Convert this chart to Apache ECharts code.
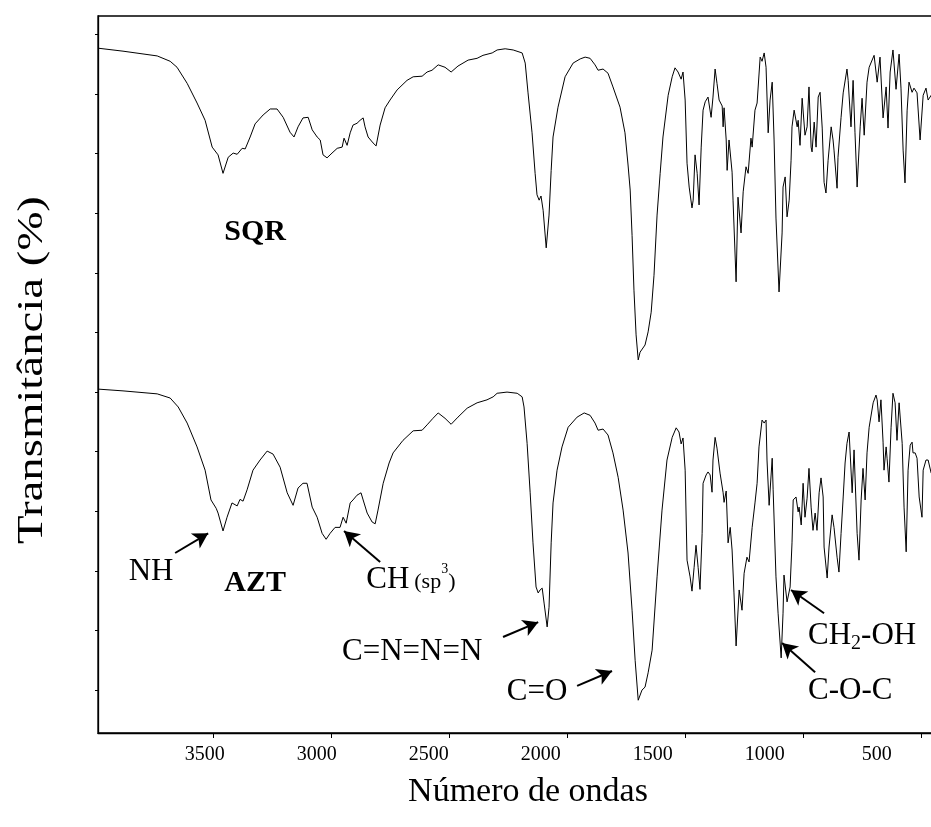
<!DOCTYPE html>
<html>
<head>
<meta charset="utf-8">
<script src="https://cdn.jsdelivr.net/npm/echarts@6/dist/echarts.min.js"></script>
<style>
html,body{margin:0;padding:0;background:#fff;}
#chart{width:931px;height:827px;}
</style>
</head>
<body>
<div id="chart"></div>
<script>
// ---- data (wavenumber in cm-1, transmittance in arbitrary stacked units) ----
const tickWavenumbers = [3500, 3000, 2500, 2000, 1500, 1000, 500];
const tickLabels = ['3500', '3000', '2500', '2000', '1500', '1000', '500'];
const transmittanceTicks = [0, 10, 20, 30, 40, 50, 60, 70, 80, 90, 100, 110];

const sqrWavenumber = [3988,3882,3737,3682,3653,3610,3568,3534,3504,3479,3458,3436,3415,3398,3377,3364,3343,3322,3288,3258,3229,3203,3174,3157,3140,3119,3097,3080,3059,3046,3034,3017,2996,2974,2953,2945,2932,2919,2907,2890,2877,2864,2856,2843,2822,2809,2792,2771,2750,2720,2678,2652,2614,2593,2572,2546,2517,2491,2462,2419,2381,2356,2317,2296,2262,2228,2190,2177,2165,2148,2135,2127,2118,2110,2101,2088,2076,2067,2059,2038,2008,1974,1944,1923,1902,1881,1868,1847,1826,1805,1775,1754,1741,1732,1724,1716,1707,1698,1690,1682,1669,1656,1643,1631,1618,1605,1593,1571,1554,1542,1529,1516,1508,1499,1491,1482,1470,1465,1457,1448,1440,1431,1423,1414,1406,1402,1389,1381,1372,1364,1355,1342,1338,1334,1325,1321,1313,1300,1296,1283,1275,1262,1253,1241,1232,1220,1215,1203,1194,1181,1173,1164,1156,1147,1139,1130,1122,1114,1101,1088,1084,1075,1067,1058,1050,1046,1037,1024,1020,1012,1003,991,982,974,965,961,952,944,935,927,918,910,902,893,880,872,868,855,851,838,829,813,808,796,787,779,770,757,749,740,728,719,698,685,673,660,647,639,630,618,605,592,584,575,567,558,550,537,529,516,503,490,478,469,456,440];
const sqrTransmittance = [107.7,107.2,106.4,105.5,104.5,101.8,98.5,95.6,91.1,89.8,86.7,89.4,90.1,89.9,90.9,90.8,92.8,95.0,96.5,97.5,97.5,96.1,93.6,92.8,94.5,96.0,96.1,94.0,92.8,92.3,89.8,89.3,90.1,90.9,91.1,92.6,91.4,93.5,94.8,95.1,95.6,96.0,94.5,92.8,91.8,91.3,94.8,97.7,99.0,100.7,102.3,102.9,103.0,103.7,104.0,104.9,104.5,103.7,104.7,105.7,106.0,106.5,106.9,107.4,107.6,107.4,106.9,105.2,100.2,93.5,86.7,83.1,82.2,82.9,80.5,74.2,79.7,87.2,92.8,97.8,102.9,105.2,105.9,106.2,106.0,104.9,104.0,104.2,103.5,101.2,97.8,93.5,88.1,83.9,76.3,67.1,59.6,55.4,56.7,57.0,57.9,60.1,63.4,69.6,79.7,86.7,92.8,99.8,102.9,104.4,103.7,102.5,103.7,99.0,88.4,84.4,80.9,82.2,89.8,86.7,81.4,91.1,97.3,98.7,99.0,99.5,96.1,99.5,104.2,101.8,99.0,98.0,94.5,97.7,92.3,87.2,92.3,86.9,82.2,68.5,82.7,76.7,83.6,87.8,86.7,92.6,91.1,97.3,98.5,106.2,105.5,106.9,104.5,93.5,99.0,102.0,92.3,79.2,66.8,76.7,84.4,86.1,79.4,82.2,88.9,94.5,97.3,94.5,95.6,91.4,99.3,93.1,94.5,101.2,91.1,90.3,95.3,91.1,99.5,100.3,94.3,85.2,83.4,88.9,94.5,92.3,90.6,84.2,89.4,96.1,100.2,104.2,102.3,94.5,102.3,93.5,84.4,94.5,99.3,93.1,102.0,104.5,106.5,102.0,106.2,96.0,101.2,94.3,103.7,107.4,100.8,106.7,101.0,90.6,85.1,97.3,102.0,100.3,101.0,100.2,92.3,99.8,101.0,99.0,99.8,98.5];

const aztWavenumber = [3988,3882,3737,3682,3648,3610,3568,3534,3509,3487,3479,3458,3441,3420,3398,3386,3373,3356,3331,3301,3271,3246,3216,3186,3161,3140,3119,3102,3080,3059,3038,3021,3004,2983,2962,2949,2936,2919,2907,2890,2873,2864,2847,2826,2813,2801,2779,2754,2737,2695,2652,2614,2593,2568,2546,2517,2491,2462,2423,2381,2339,2313,2296,2254,2211,2190,2182,2169,2156,2144,2131,2122,2114,2105,2097,2084,2076,2067,2059,2042,2021,1995,1957,1927,1902,1881,1868,1847,1826,1805,1783,1762,1741,1724,1711,1698,1682,1669,1656,1639,1618,1597,1576,1554,1537,1525,1516,1508,1499,1491,1478,1470,1461,1453,1444,1436,1427,1423,1410,1402,1393,1385,1381,1372,1364,1351,1338,1334,1325,1317,1308,1300,1292,1283,1270,1258,1249,1237,1228,1215,1203,1194,1186,1173,1164,1156,1152,1143,1130,1126,1114,1105,1092,1084,1080,1067,1054,1046,1041,1029,1020,1016,1007,999,991,982,974,965,957,948,940,931,923,914,910,897,889,876,868,855,847,838,829,821,813,804,791,783,770,762,753,745,736,728,719,702,690,685,677,669,660,656,647,643,635,626,618,609,601,592,579,571,562,554,545,537,533,524,516,507,495,490,478,469,456,440];
const aztTransmittance = [50.5,50.2,49.7,49.0,47.5,44.8,40.8,36.9,31.9,30.5,29.7,26.7,29.0,31.4,30.9,32.0,31.7,33.6,36.9,38.6,40.1,39.6,37.4,33.1,31.0,33.9,34.7,34.7,30.7,29.0,26.3,25.3,26.3,27.3,27.3,29.0,28.0,31.4,31.9,32.7,33.1,31.9,29.7,28.2,27.9,30.2,34.7,38.1,39.8,41.9,43.5,43.6,44.5,45.6,46.5,45.6,44.6,45.8,47.3,48.2,48.7,49.2,49.8,50.0,49.8,49.2,47.5,41.4,33.1,24.7,17.3,16.3,16.8,17.1,14.6,10.6,13.9,24.7,31.4,36.9,40.8,44.1,45.8,46.5,46.1,44.8,43.6,43.8,42.8,39.8,35.7,30.2,23.0,13.4,5.0,-1.7,0.0,0.5,2.9,6.7,19.0,30.2,38.6,42.4,44.0,43.3,41.3,42.3,36.9,21.8,19.0,16.6,20.6,24.3,20.6,16.9,26.3,34.7,36.1,36.6,36.1,33.2,38.6,42.4,40.6,36.4,33.1,31.5,33.4,24.7,27.3,23.5,16.3,7.4,16.8,13.4,19.6,22.3,21.5,27.3,31.4,34.7,40.8,45.3,44.8,45.3,38.6,31.0,38.9,33.6,19.0,12.9,5.4,12.9,19.3,14.8,17.3,24.7,31.9,32.4,29.9,30.7,27.7,34.7,29.0,32.2,37.2,30.7,26.8,29.7,26.8,33.1,35.6,32.4,24.0,18.8,24.0,29.4,27.3,22.3,19.8,26.3,32.4,38.1,41.4,43.3,33.1,40.3,26.3,21.8,31.9,37.2,31.9,39.8,44.1,48.2,49.5,48.7,45.0,48.7,41.6,36.9,40.8,38.9,34.9,44.1,49.8,48.2,41.9,48.2,41.4,30.7,23.2,36.9,41.1,41.6,39.8,39.8,38.9,32.4,29.0,36.9,38.6,38.6,36.4,37.0];

// annotation arrows: [tail wavenumber, tail T, head wavenumber, head T]
const arrowNH = [3661, 23.0, 3521, 26.3];
const arrowCH = [2792, 21.5, 2945, 26.7];
const arrowAzide = [2271, 8.9, 2122, 11.4];
const arrowCO = [1957, 0.7, 1809, 3.2];
const arrowCH2OH = [910, 12.9, 1050, 16.8];
const arrowCOC = [948, 3.0, 1088, 7.9];

const FONT = '"Liberation Serif", "Times New Roman", serif';

function zip(xs, ys) { return xs.map((x, i) => [x, ys[i]]); }
function arrow(a) { return [{ coord: [a[0], a[1]] }, { coord: [a[2], a[3]] }]; }

const chart = echarts.init(document.getElementById('chart'), null, { renderer: 'canvas' });

const option = {
  animation: false,
  backgroundColor: '#ffffff',
  grid: {
    left: 98, top: 16, width: 846.4, height: 717,
    outerBoundsMode: 'none', containLabel: false,
    show: true, borderColor: '#000', borderWidth: 1.3, backgroundColor: 'transparent'
  },
  xAxis: [
    {
      type: 'value', inverse: true, min: 400, max: 3988, position: 'bottom',
      axisLine: { show: true, onZero: false, lineStyle: { color: '#000', width: 1.3 } },
      axisTick: { show: true, inside: false, length: 5, customValues: tickWavenumbers, lineStyle: { color: '#000', width: 1 } },
      axisLabel: { show: false },
      splitLine: { show: false }
    },
    {
      type: 'value', inverse: true, min: 198, max: 3976, position: 'bottom',
      axisLine: { show: false }, axisTick: { show: false },
      axisLabel: {
        show: true, customValues: tickWavenumbers, margin: 12,
        fontFamily: FONT, fontSize: 20, color: '#000',
        formatter: v => tickLabels[tickWavenumbers.indexOf(v)] || String(v)
      },
      splitLine: { show: false }
    }
  ],
  yAxis: {
    type: 'value', min: -7.2, max: 113.1,
    axisLine: { show: true, onZero: false, lineStyle: { color: '#000', width: 1.3 } },
    axisTick: { show: true, inside: false, length: 3, customValues: transmittanceTicks, lineStyle: { color: '#000', width: 1 } },
    axisLabel: { show: false },
    splitLine: { show: false }
  },
  series: [
    {
      name: 'SQR', type: 'line', xAxisIndex: 0, yAxisIndex: 0,
      data: zip(sqrWavenumber, sqrTransmittance),
      showSymbol: false, symbol: 'none', smooth: false,
      lineStyle: { color: '#000', width: 1 }
    },
    {
      name: 'AZT', type: 'line', xAxisIndex: 0, yAxisIndex: 0,
      data: zip(aztWavenumber, aztTransmittance),
      showSymbol: false, symbol: 'none', smooth: false,
      lineStyle: { color: '#000', width: 1 },
      markLine: {
        silent: true, animation: false,
        symbol: ['none', 'arrow'], symbolSize: [13, 15],
        label: { show: false },
        lineStyle: { color: '#000', width: 2, type: 'solid' },
        data: [arrow(arrowNH), arrow(arrowCH), arrow(arrowAzide), arrow(arrowCO), arrow(arrowCH2OH), arrow(arrowCOC)]
      }
    }
  ]
};
chart.setOption(option);

// ---- text annotations anchored in data coordinates ----
function toPx(wn, t) { return chart.convertToPixel({ xAxisIndex: 0, yAxisIndex: 0 }, [wn, t]); }
const measureCtx = document.createElement('canvas').getContext('2d');
function textWidth(txt, size, weight) {
  measureCtx.font = (weight || 'normal') + ' ' + size + 'px ' + FONT;
  return measureCtx.measureText(txt).width;
}
function txt(x, y, s, size, opts) {
  opts = opts || {};
  return {
    type: 'text', x: x, y: y, rotation: opts.rotation || 0,
    scaleX: opts.scaleX || 1, scaleY: opts.scaleY || 1, silent: true,
    style: {
      text: s, fill: '#000', fontFamily: FONT, fontSize: size,
      fontWeight: opts.weight || 'normal',
      align: opts.align || 'left', verticalAlign: opts.va || 'middle'
    }
  };
}

const els = [];
let p;
// compound labels
p = toPx(3322, 76.8); els.push(txt(p[0], p[1], 'SQR', 30, { weight: 'bold', align: 'center' }));
p = toPx(3322, 18.0); els.push(txt(p[0], p[1], 'AZT', 30, { weight: 'bold', align: 'center' }));
p = toPx(3763, 19.8); els.push(txt(p[0], p[1], 'NH', 31, { align: 'center' }));
p = toPx(2656, 6.4); els.push(txt(p[0], p[1], 'C=N=N=N', 31, { align: 'center' }));
p = toPx(2127, -0.3); els.push(txt(p[0], p[1], 'C=O', 31, { align: 'center' }));
p = toPx(978, -0.2); els.push(txt(p[0], p[1], 'C-O-C', 31, { align: 'left' }));

// CH (sp3)
p = toPx(2851, 18.5);
(function () {
  let x = p[0], y = p[1];
  els.push(txt(x, y, 'CH', 31)); x += textWidth('CH', 31) + 5;
  els.push(txt(x, y + 2, '(sp', 22)); x += textWidth('(sp', 22);
  els.push(txt(x, y - 10, '3', 14)); x += textWidth('3', 14);
  els.push(txt(x, y + 2, ')', 22));
})();
// CH2-OH
p = toPx(978, 9.1);
(function () {
  let x = p[0], y = p[1];
  els.push(txt(x, y, 'CH', 31)); x += textWidth('CH', 31);
  els.push(txt(x, y + 8, '2', 20)); x += textWidth('2', 20);
  els.push(txt(x, y, '-OH', 31));
})();

// axis titles
els.push(txt(528, 792, 'Número de ondas', 34, { align: 'center' }));
els.push(txt(33, 370, 'Transmitância (%)', 36, { align: 'center', rotation: Math.PI / 2, scaleX: 1.3 }));

chart.setOption({ graphic: { elements: els } });
</script>
</body>
</html>
